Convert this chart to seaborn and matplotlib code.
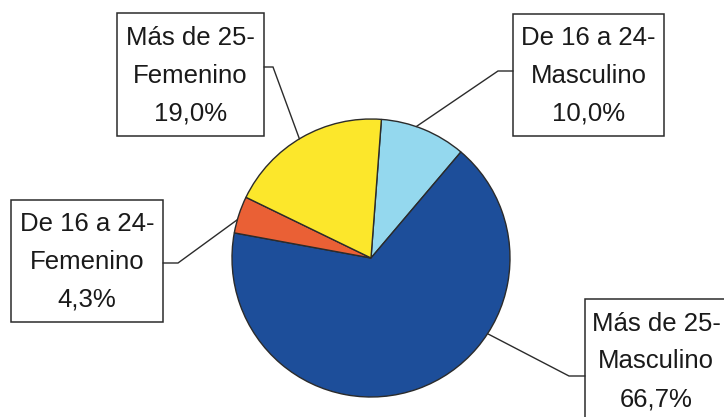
import numpy as np
import matplotlib
matplotlib.use("Agg")
import matplotlib.pyplot as plt
from matplotlib.patches import Rectangle
import seaborn as sns

# datos
grupos = ["De 16 a 24-\nMasculino", "Más de 25-\nMasculino",
          "De 16 a 24-\nFemenino", "Más de 25-\nFemenino"]
porcentajes = [10.0, 66.7, 4.3, 19.0]
colores = ["#94D8EE", "#1D4E9A", "#EA6035", "#FCE72B"]

sns.set_theme(style="white")
plt.rcParams["font.family"] = ["Liberation Sans", "DejaVu Sans"]

W, H = 724, 417
fig = plt.figure(figsize=(W / 100, H / 100), dpi=100)
ax = fig.add_axes([0, 0, 1, 1])

cx, cy, r = 371, H - 258, 139
ax.pie(porcentajes, colors=colores, startangle=85.7, counterclock=False,
       center=(cx, cy), radius=r,
       wedgeprops=dict(edgecolor="#2b2b2b", linewidth=1.0))
ax.set_xlim(0, W)
ax.set_ylim(0, H)
ax.set_aspect("equal")
ax.axis("off")

# cajas: (x0, y0, x1, y1) en pixeles (y hacia abajo), codo, punto de union
cajas = [
    ((513, 14, 664, 136), (498, 71), 513, 71),
    ((585, 299, 727, 422), (569, 376), 585, 376),
    ((11, 200, 163, 322), (178, 263), 163, 263),
    ((117, 13, 264, 136), (273, 67), 264, 67),
]
angulos = [71, -33, 164, 121]

for txt, pct, (box, codo, bx, by), ang in zip(grupos, porcentajes, cajas, angulos):
    x0, y0, x1, y1 = box
    ax.add_patch(Rectangle((x0, H - y1), x1 - x0, y1 - y0, facecolor="white",
                           edgecolor="#2b2b2b", linewidth=1.1, clip_on=False))
    etiqueta = f"{txt}\n{pct:.1f}%".replace(".", ",")
    ax.text((x0 + x1) / 2, H - (y0 + y1) / 2 - 1, etiqueta, ha="center", va="center",
            fontsize=18.5, color="#1a1a1a", linespacing=1.72, multialignment="center")
    px = cx + r * np.cos(np.radians(ang))
    py = cy + r * np.sin(np.radians(ang))
    ax.plot([px, codo[0], bx], [py, H - codo[1], H - by], color="#2b2b2b",
            linewidth=1.0, solid_joinstyle="miter")

fig.savefig("out.png", dpi=100)
